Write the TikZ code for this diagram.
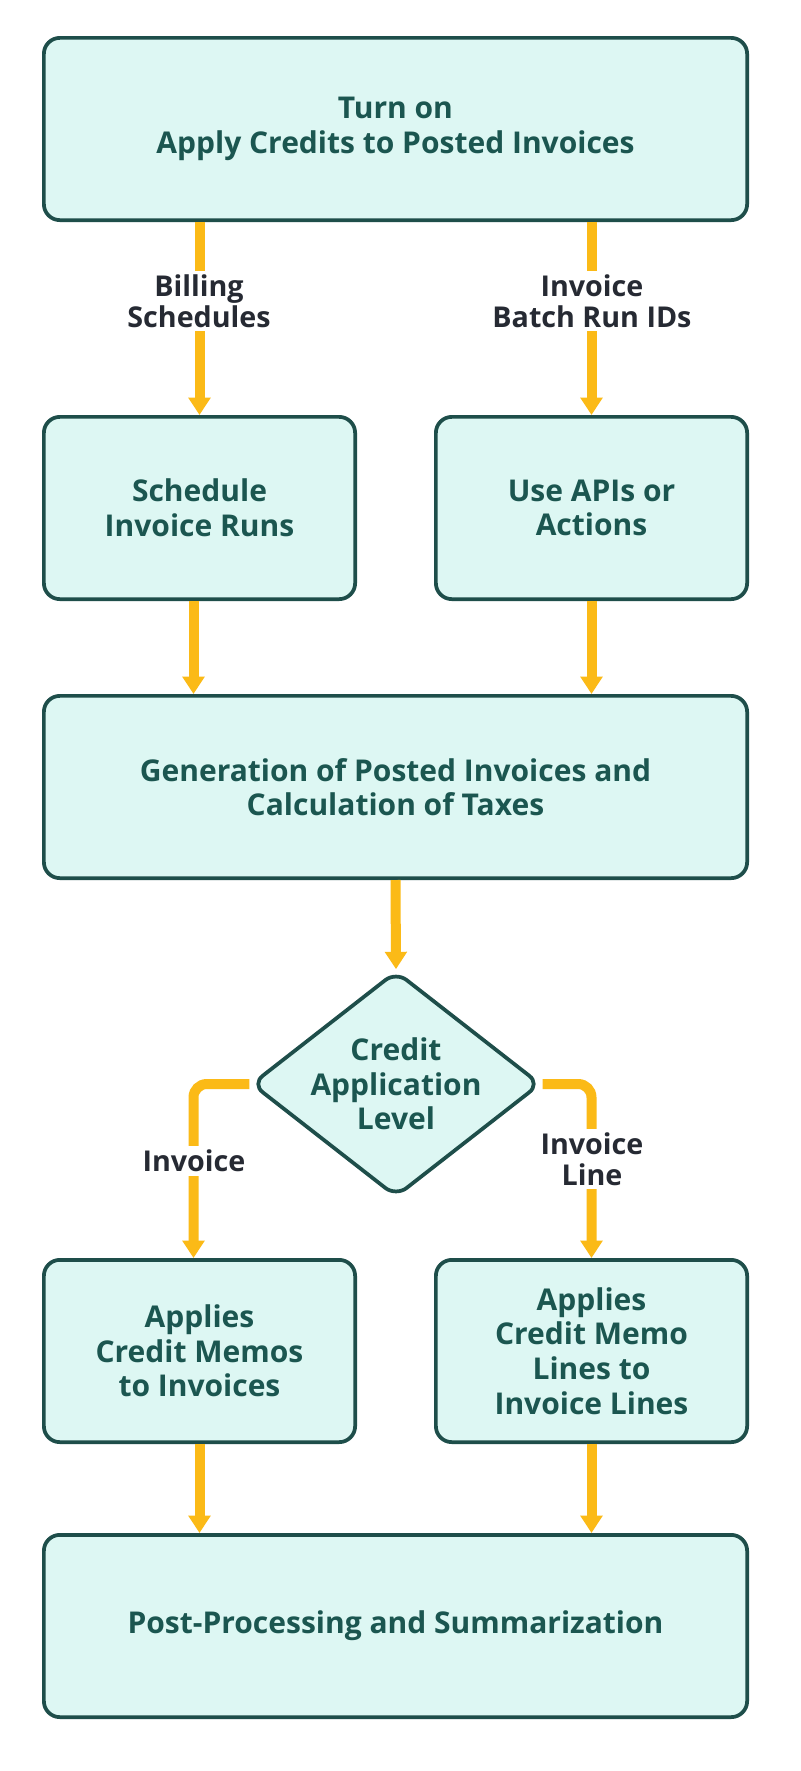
\documentclass[tikz,border=0pt]{standalone}
\usepackage{fontspec}
\setmainfont{Open Sans}
\usetikzlibrary{shapes.geometric,arrows.meta}
\definecolor{fillc}{HTML}{DDF7F3}
\definecolor{edgec}{HTML}{1E4E4A}
\definecolor{txtc}{HTML}{1B5650}
\definecolor{arr}{HTML}{FBBA17}
\definecolor{lbl}{HTML}{262A33}
\begin{document}
\begin{tikzpicture}[x=0.75pt,y=-0.75pt,
 box/.style={draw=edgec,line width=2.8pt,fill=fillc,rounded corners=12pt,text=txtc,align=center,font=\fontsize{22.5}{26}\selectfont\bfseries},
 dia/.style={draw=edgec,line width=2.8pt,fill=fillc,diamond,rounded corners=10pt,text=txtc,align=center,font=\fontsize{22.5}{26}\selectfont\bfseries,inner sep=0pt,minimum width=272*0.75pt,minimum height=212*0.75pt,aspect=1.28},
 ar/.style={draw=arr,line width=7.5pt,-{Triangle[length=13pt,width=16pt]},rounded corners=10pt},
 lab/.style={fill=white,text=lbl,align=center,font=\fontsize{21.5}{23}\selectfont\bfseries,inner sep=3pt}]
\useasboundingbox (0,0) rectangle (800,1771);
\fill[white] (0,0) rectangle (800,1771);
\newcommand\bx[6]{\node[box,minimum width=#4*0.75pt-2.8pt,minimum height=#5*0.75pt-2.8pt] (#1) at (#2,#3) {#6};}
\bx{top}{395.5}{129}{707}{186}{Turn on\\Apply Credits to Posted Invoices}
\bx{sch}{199.5}{508}{315}{186}{Schedule\\Invoice Runs}
\bx{api}{591.5}{508}{315}{186}{Use APIs or\\Actions}
\bx{gen}{395.5}{787}{707}{186}{Generation of Posted Invoices and\\Calculation of Taxes}
\node[dia] (d) at (396,1084) {Credit\\Application\\Level};
\bx{inv}{199.5}{1351}{315}{186}{Applies\\Credit Memos\\to Invoices}
\bx{lin}{591.5}{1351}{315}{186}{Applies\\Credit Memo\\Lines to\\Invoice Lines}
\bx{post}{395.5}{1626}{707}{186}{Post-Processing and Summarization}
\draw[ar] (top.south -| sch) -- (sch.north);
\draw[ar] (api|-top.south) -- (api.north);
\node[lab] at (199,301) {Billing\\Schedules};
\node[lab] at (592,301) {Invoice\\Batch Run IDs};
\draw[ar] ([xshift=-4.5pt]sch.south) -- ([xshift=-4.5pt]sch.south|-gen.north);
\draw[ar] (api.south) -- (api.south|-gen.north);
\draw[ar] (gen.south) -- (d.north);
\draw[ar] (d.west) -| ([xshift=-4.5pt]inv.north);
\draw[ar] (d.east) -| (lin.north);
\node[lab] at (194,1161) {Invoice};
\node[lab] at (592,1159) {Invoice\\Line};
\draw[ar] (inv.south) -- (inv.south|-post.north);
\draw[ar] (lin.south) -- (lin.south|-post.north);
\end{tikzpicture}
\end{document}
